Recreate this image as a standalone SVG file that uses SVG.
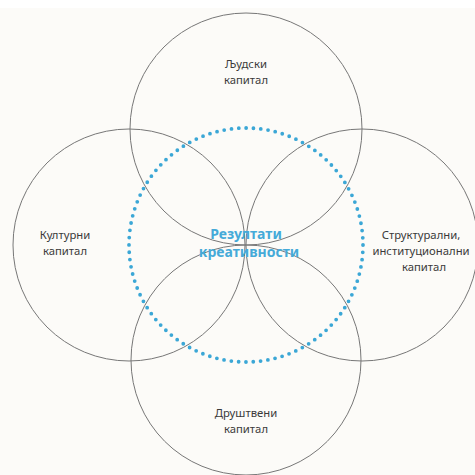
<svg xmlns="http://www.w3.org/2000/svg" width="475" height="475" viewBox="0 0 475 475">
<style>
.c{fill:none;stroke:#777777;stroke-width:1}
.l{font-family:"Noto Sans","Open Sans",sans-serif;font-size:11.3px;fill:#3a3a3a;text-anchor:middle}
.r{font-family:"Noto Sans","Open Sans",sans-serif;font-size:14px;font-weight:bold;fill:#45aad8;text-anchor:middle}
.d{fill:none;stroke:#3ba7d6;stroke-width:3.8;stroke-linecap:round;stroke-dasharray:0 7.35}
</style>
<rect width="475" height="475" fill="#fcfbf8"/>
<rect width="475" height="8" fill="#ffffff"/>
<g id="connectors"/>
<g id="top"><circle class="c" cx="246" cy="129" r="116"/><text class="l" x="246" y="68">Људски</text><text class="l" x="246" y="84">капитал</text></g>
<g id="left"><circle class="c" cx="129" cy="245" r="116"/><text class="l" x="65" y="239">Културни</text><text class="l" x="65" y="255">капитал</text></g>
<g id="right"><circle class="c" cx="362" cy="245" r="116"/><text class="l" x="421" y="239">Структурални,</text><text class="l" x="421" y="255">институционални</text><text class="l" x="424" y="271">капитал</text></g>
<g id="bottom"><circle class="c" cx="246" cy="360" r="115"/><text class="l" x="246" y="417">Друштвени</text><text class="l" x="246" y="433">капитал</text></g>
<g id="center"><circle class="d" cx="246" cy="245" r="117"/><text class="r" x="246" y="239">Резултати</text><text class="r" x="249" y="257">креативности</text></g>
</svg>
